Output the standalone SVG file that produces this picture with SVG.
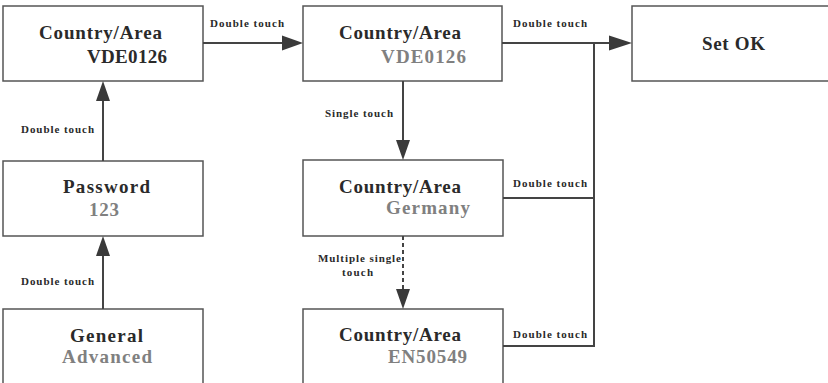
<svg xmlns="http://www.w3.org/2000/svg" width="828" height="383" viewBox="0 0 828 383">
<style>
.box{fill:#fff;stroke:#555;stroke-width:1.5}
.t{font-family:"Liberation Serif",serif;font-weight:bold;font-size:19px;fill:#2a2a2a}
.g{fill:#808080}
.l{font-family:"Liberation Serif",serif;font-weight:bold;font-size:11px;fill:#2a2a2a}
.c{fill:none;stroke:#444;stroke-width:2}
.d{stroke-dasharray:4,3}
.ah{fill:#3a3a3a}
</style>
<rect width="828" height="383" fill="#fff"/>
<g id="n-vde-black"><rect class="box" x="3" y="6" width="200" height="75"/><text class="t" x="39" y="39" textLength="123">Country/Area</text><text class="t" x="87" y="63" textLength="80">VDE0126</text></g>
<g id="n-vde-gray"><rect class="box" x="303" y="6" width="199" height="75"/><text class="t" x="339" y="39" textLength="122">Country/Area</text><text class="t g" x="381" y="63" textLength="85">VDE0126</text></g>
<g id="n-setok"><rect class="box" x="632" y="6" width="200" height="75"/><text class="t" x="702" y="50" textLength="63">Set OK</text></g>
<g id="n-password"><rect class="box" x="3" y="161" width="200" height="75"/><text class="t" x="63" y="193" textLength="87">Password</text><text class="t g" x="89" y="216" textLength="30">123</text></g>
<g id="n-general"><rect class="box" x="3" y="309" width="200" height="80"/><text class="t" x="70" y="342" textLength="73">General</text><text class="t g" x="62" y="363" textLength="90">Advanced</text></g>
<g id="n-germany"><rect class="box" x="303" y="160" width="200" height="76"/><text class="t" x="339" y="193" textLength="122">Country/Area</text><text class="t g" x="386" y="214" textLength="84">Germany</text></g>
<g id="n-en50549"><rect class="box" x="303" y="309" width="200" height="80"/><text class="t" x="339" y="341" textLength="122">Country/Area</text><text class="t g" x="388" y="363" textLength="79">EN50549</text></g>
<g id="connectors">
<line class="c" x1="203" y1="43" x2="282" y2="43"/><polygon class="ah" points="282,35.5 303,43 282,50.5"/>
<line class="c" x1="502" y1="43" x2="610" y2="43"/><polygon class="ah" points="609,35.5 632,43 609,50.5"/>
<polyline class="c" points="594,43 594,346 503,346"/>
<line class="c" x1="503" y1="198" x2="594" y2="198"/>
<line class="c" x1="103" y1="161" x2="103" y2="100"/><polygon class="ah" points="96,101 103,81 110,101"/>
<line class="c" x1="103" y1="309" x2="103" y2="255"/><polygon class="ah" points="96,256 103,236 110,256"/>
<line class="c" x1="403" y1="81" x2="403" y2="141"/><polygon class="ah" points="396,140 403,160 410,140"/>
<line class="c d" x1="403" y1="236" x2="403" y2="290"/><polygon class="ah" points="396,289 403,309 410,289"/>
<text class="l" x="210" y="27" textLength="74">Double touch</text>
<text class="l" x="513" y="27" textLength="74">Double touch</text>
<text class="l" x="513" y="187" textLength="74">Double touch</text>
<text class="l" x="513" y="338" textLength="74">Double touch</text>
<text class="l" x="21" y="133" textLength="73">Double touch</text>
<text class="l" x="21" y="285" textLength="73">Double touch</text>
<text class="l" x="325" y="117" textLength="68">Single touch</text>
<text class="l" x="318" y="262" textLength="83">Multiple single</text>
<text class="l" x="342" y="276" textLength="31">touch</text>
</g>
</svg>
